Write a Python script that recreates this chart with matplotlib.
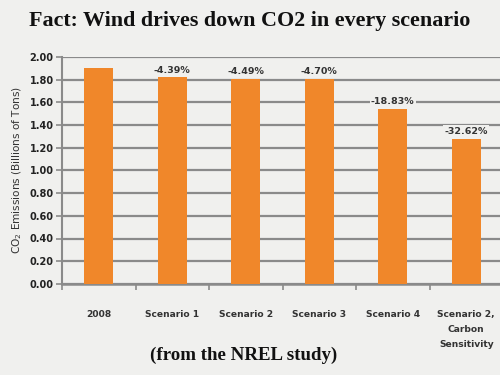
import matplotlib.pyplot as plt
import numpy as np

categories = ["2008", "Scenario 1", "Scenario 2", "Scenario 3", "Scenario 4",
              "Scenario 2,\nCarbon\nSensitivity"]
emissions = [1.90, 1.82, 1.81, 1.81, 1.54, 1.28]
changes = ["", "-4.39%", "-4.49%", "-4.70%", "-18.83%", "-32.62%"]
yticks = np.arange(0, 2.01, 0.2)

bg = "#f0f0ee"
orange = "#f0872a"
grid = "#8a8a8a"

fig = plt.figure(figsize=(5, 3.75), dpi=100, facecolor=bg)
ax = fig.add_axes([0.124, 0.243, 0.882, 0.605], facecolor=bg)

x = np.arange(len(categories))
ax.bar(x, emissions, width=0.40, color=orange, zorder=3)

for xi, v, lab in zip(x, emissions, changes):
    if lab:
        ax.text(xi, v + 0.025, lab, ha="center", va="bottom", fontsize=6.8,
                fontweight="bold", color="#333333", zorder=4,
                bbox=dict(facecolor=bg, edgecolor="none", pad=1.0))

ax.set_ylim(0, 2.0)
ax.set_xlim(-0.5, len(categories) - 0.5)
ax.set_yticks(yticks)
ax.set_yticklabels([f"{t:.2f}" for t in yticks], fontsize=7, fontweight="bold",
                   color="#222222")
ax.yaxis.grid(True, color=grid, linewidth=1.6, zorder=0)
ax.set_axisbelow(True)

ax.set_xticks(x)
ax.set_xticklabels(categories, fontsize=6.6, fontweight="bold", color="#333333",
                   linespacing=1.85)
ax.tick_params(axis="x", length=0, pad=19)
ax.set_xticks(np.arange(-0.5, len(categories), 1), minor=True)
ax.tick_params(axis="x", which="minor", length=4, color=grid, width=1.2)
ax.tick_params(axis="y", length=4, color=grid, width=1.2, pad=2)

for s in ["top", "right"]:
    ax.spines[s].set_visible(False)
ax.spines["left"].set_color(grid)
ax.spines["left"].set_linewidth(1.5)
ax.spines["bottom"].set_color(grid)
ax.spines["bottom"].set_linewidth(1.8)

ax.set_ylabel("CO$_2$ Emissions (Billions of Tons)", fontsize=7.6,
              color="#333333", labelpad=4)

fig.text(0.5, 0.945, "Fact: Wind drives down CO2 in every scenario",
         ha="center", va="center", fontsize=15.8, fontweight="bold",
         family="Liberation Serif", color="#111111")
fig.text(0.487, 0.052, "(from the NREL study)", ha="center", va="center",
         fontsize=13.6, fontweight="bold", family="Liberation Serif",
         color="#111111")

fig.savefig("out.png", dpi=100, facecolor=bg)
